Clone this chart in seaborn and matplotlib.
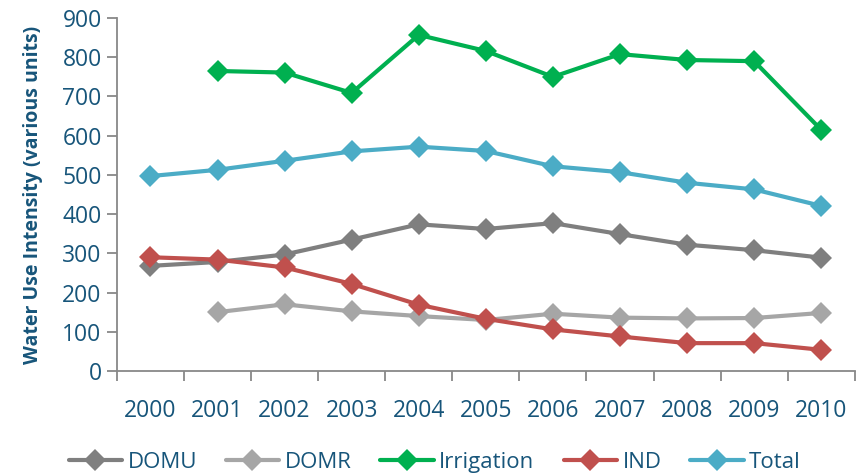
import pandas as pd
import numpy as np
import seaborn as sns
import matplotlib.pyplot as plt
from matplotlib.ticker import FixedLocator

years = ['2000', '2001', '2002', '2003', '2004', '2005', '2006', '2007', '2008', '2009', '2010']
domu = [268, 278, 297, 335, 374, 362, 377, 349, 322, 308, 289]
domr = [np.nan, 150, 170, 152, 140, 130, 146, 136, 134, 135, 148]
irrigation = [np.nan, 765, 761, 709, 857, 816, 750, 808, 793, 790, 615]
ind = [290, 284, 264, 222, 169, 133, 106, 88, 71, 71, 54]
total = [497, 513, 536, 560, 572, 561, 522, 507, 480, 463, 421]

series = {'DOMU': domu, 'DOMR': domr, 'Irrigation': irrigation, 'IND': ind, 'Total': total}
colors = {'DOMU': '#7F7F7F', 'DOMR': '#A6A6A6', 'Irrigation': '#00B050',
          'IND': '#C0504D', 'Total': '#4BACC6'}

rows = []
for name, vals in series.items():
    for i, v in enumerate(vals):
        rows.append({'pos': i, 'year': years[i], 'series': name, 'value': v})
df = pd.DataFrame(rows).dropna()

sns.set_style('white')
plt.rcParams['font.family'] = ['Open Sans', 'DejaVu Sans']
txt = '#17557A'

fig = plt.figure(figsize=(8.66, 4.75), dpi=100)
ax = fig.add_axes([0.135, 0.219, 0.852, 0.743])

sns.lineplot(data=df, x='pos', y='value', hue='series', palette=colors,
             hue_order=list(series.keys()), marker='D', markersize=11,
             markeredgewidth=0, linewidth=3, ax=ax, legend=True)

ax.set_xlim(-0.5, 10.5)
ax.set_ylim(0, 900)
ax.set_yticks(range(0, 901, 100))
ax.set_xticks(range(len(years)))
ax.set_xticklabels(years)
ax.xaxis.set_minor_locator(FixedLocator(np.arange(-0.5, 11, 1)))
ax.tick_params(axis='x', which='major', length=0, pad=20, labelsize=16.5, labelcolor=txt)
ax.tick_params(axis='x', which='minor', length=7, width=1.3, color='#888888', direction='out', bottom=True)
ax.tick_params(axis='y', length=7, width=1.3, color='#888888', direction='out', left=True,
               labelsize=16.5, labelcolor=txt, pad=4)

for s in ['top', 'right']:
    ax.spines[s].set_visible(False)
for s in ['left', 'bottom']:
    ax.spines[s].set_color('#888888')
    ax.spines[s].set_linewidth(1.3)

ax.set_xlabel('')
ax.set_ylabel('Water Use Intensity (various units)', fontsize=14, fontweight='bold', color=txt, labelpad=14)

handles, labels = ax.get_legend_handles_labels()
fig.legend(handles, labels, loc='center', bbox_to_anchor=(0.502, 0.027), ncol=5,
           frameon=False, fontsize=16, labelcolor=txt, handlelength=2.4, columnspacing=1.3,
           handletextpad=0.25, borderaxespad=0)
ax.get_legend().remove()

fig.savefig('out.png', dpi=100)
